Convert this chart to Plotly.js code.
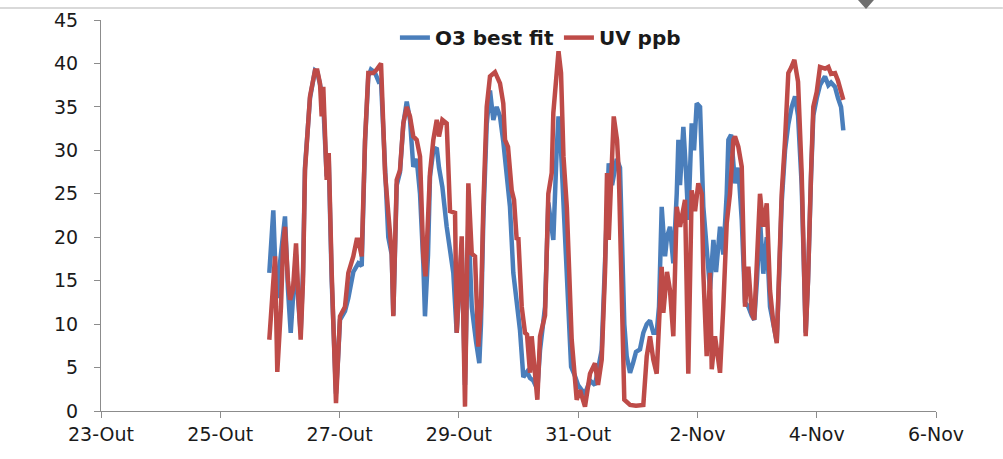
<!DOCTYPE html>
<html>
<head>
<meta charset="utf-8">
<script src="https://cdn.plot.ly/plotly-3.0.1.min.js"></script>
<style>
html,body{margin:0;padding:0;background:#fff;}
#chart{width:1003px;height:459px;}
</style>
</head>
<body>
<div id="chart"></div>
<script>
// x values: days elapsed since 23-Out 00:00
const tickVals = [0, 2, 4, 6, 8, 10, 12, 14];
const tickText = ["23-Out", "25-Out", "27-Out", "29-Out", "31-Out", "2-Nov", "4-Nov", "6-Nov"];
const yTickVals = [0, 5, 10, 15, 20, 25, 30, 35, 40, 45];

const seriesNames = ["O3 best fit", "UV ppb"];

const o3Days = [2.822,2.889,2.926,2.968,3.001,3.052,3.085,3.135,3.181,3.219,3.270,3.303,3.348,3.387,3.420,3.504,3.588,3.627,3.672,3.722,3.784,3.818,3.868,3.907,3.940,3.974,4.007,4.091,4.147,4.230,4.275,4.314,4.371,4.427,4.482,4.527,4.589,4.656,4.695,4.762,4.817,4.874,4.901,4.958,5.013,5.069,5.126,5.181,5.236,5.293,5.349,5.404,5.432,5.483,5.516,5.572,5.629,5.667,5.723,5.796,5.852,5.907,5.964,6.003,6.048,6.103,6.159,6.216,6.243,6.288,6.343,6.371,6.410,6.467,6.522,6.578,6.634,6.690,6.745,6.801,6.857,6.913,6.970,7.025,7.081,7.143,7.193,7.248,7.316,7.361,7.445,7.500,7.557,7.584,7.640,7.671,7.713,7.754,7.783,7.837,7.882,7.948,7.998,8.060,8.115,8.199,8.283,8.395,8.451,8.513,8.569,8.647,8.702,8.736,8.774,8.814,8.870,8.920,8.970,9.037,9.093,9.150,9.205,9.261,9.317,9.356,9.401,9.457,9.490,9.540,9.596,9.653,9.681,9.708,9.764,9.809,9.847,9.904,9.943,9.988,10.044,10.099,10.155,10.211,10.268,10.312,10.379,10.434,10.491,10.519,10.564,10.630,10.686,10.743,10.798,10.854,10.910,10.953,10.998,11.049,11.105,11.162,11.217,11.272,11.330,11.368,11.413,11.469,11.524,11.581,11.637,11.687,11.748,11.815,11.854,11.905,11.943,12.000,12.055,12.139,12.195,12.240,12.307,12.357,12.408,12.446];
const o3Vals = [15.9,23.1,16,13,17,19.7,22.4,14,9.0,13,18,13,9,16,28,36,39.2,39,37.5,36,27,29,15,7,2,6,10.5,11.5,13,16,16.5,17,16.7,31,38.5,39.3,39,37.9,38,27,20,18,11,26,27.5,33,35.6,33.5,28.1,29,25,17,10.9,18,27,30,30.3,28,25.8,21.2,18.9,15.9,9.0,13,19,3,22,12,10.1,8,5.5,10,22,33,36.9,33.5,35.0,33.9,31,27,23.5,15.9,13,9.3,3.9,4.5,3.8,3.5,2.5,7,12,24,21,19.7,30,33.9,30,24,19.7,13.9,5.1,4,3,2.4,2,3.5,3,7,15.8,28.5,26,29,28,20,10,6.3,4.4,5.5,6.8,7.1,9,10,10.4,9,9,12,23.5,17.8,20,21.2,17,25,31.2,26,32.7,27.4,22,33.1,30,35.4,35.0,23.5,17.8,14,19.7,16,21.2,18,25,31.2,31.8,26.2,28,22.0,12.5,12.0,11,10.5,15,22,15.8,20,12,9.7,8,15,24,30,33,35,36.2,34,26,9,15,27,34,36,37.5,38.5,37.5,37.8,37.3,36,35.0,32.3];

const uvDays = [2.822,2.884,2.918,2.956,3.018,3.052,3.085,3.135,3.169,3.219,3.270,3.303,3.348,3.387,3.420,3.504,3.554,3.588,3.627,3.672,3.700,3.727,3.784,3.818,3.868,3.895,3.940,3.974,4.007,4.091,4.147,4.230,4.287,4.314,4.371,4.427,4.482,4.566,4.623,4.695,4.762,4.817,4.874,4.901,4.958,5.013,5.069,5.126,5.181,5.236,5.293,5.349,5.404,5.441,5.516,5.572,5.629,5.667,5.723,5.796,5.852,5.936,5.964,6.003,6.048,6.103,6.159,6.216,6.271,6.326,6.371,6.410,6.467,6.522,6.606,6.690,6.745,6.774,6.824,6.886,6.925,6.970,6.997,7.054,7.109,7.143,7.193,7.221,7.277,7.316,7.361,7.445,7.500,7.557,7.584,7.671,7.713,7.754,7.810,7.837,7.892,7.948,7.976,8.031,8.115,8.199,8.283,8.333,8.395,8.451,8.484,8.513,8.597,8.652,8.682,8.774,8.870,8.970,9.093,9.150,9.205,9.261,9.317,9.356,9.401,9.428,9.490,9.540,9.596,9.653,9.708,9.792,9.847,9.904,9.960,10.015,10.072,10.099,10.155,10.211,10.240,10.295,10.379,10.434,10.491,10.546,10.602,10.630,10.686,10.743,10.798,10.854,10.910,10.953,10.993,11.049,11.105,11.162,11.217,11.272,11.330,11.368,11.413,11.469,11.524,11.570,11.625,11.687,11.748,11.815,11.854,11.905,11.943,12.000,12.055,12.139,12.195,12.240,12.307,12.357,12.408,12.446];
const uvVals = [8.2,14,17.8,4.5,12,18.9,21.2,15,12.8,14,19.3,14,8.2,15,27.7,36.2,38.5,39.2,39.2,37.7,33.9,37.3,26.6,29.7,15.9,9.0,0.9,6,10.9,12.0,15.9,17.8,19.7,19.7,17.8,31.2,38.9,38.9,39.3,40.0,27.4,22.8,18.2,10.9,26.6,27.7,33.1,35.0,33.9,31.6,31.2,29.3,17.8,15.5,27.4,31.2,33.5,31.6,33.5,33.1,23,22.8,9.0,14,20.1,0.5,26.2,18.1,17.8,7.4,12,23.5,35.0,38.5,39.0,37.7,35.4,31.2,30.4,25.4,24.3,19.7,20,12.0,9.0,8.8,4.4,8.6,4.4,1.3,8.6,11,25,27.4,34.3,41.4,38.9,29.3,23.5,18.9,8.2,3.6,1.3,2.4,0.5,4.3,5.5,3,5.9,16,27.4,19.7,33.9,31.2,27.4,1.3,0.7,0.6,0.7,6.3,8.6,5.9,4.3,10,16.6,11.3,16,13.9,8.6,23.5,21.2,24.3,4.3,25.4,23,26.2,25.0,15.9,6.3,15.9,4.8,8.6,4.4,12.0,21.6,25,31.2,31.6,30.4,28.1,12.0,16.6,11.3,10.5,15.9,25.0,21.2,23.9,13.9,10.2,7.8,15,25.0,31.2,38.9,39.5,40.4,37.9,27.4,8.6,15,27.4,35.0,36.7,39.6,39.4,39.6,38.8,38.9,38,36.9,35.8];

const colors = ["#4A7EBB", "#BE4B48"];

const traces = [
  {x: o3Days, y: o3Vals, name: seriesNames[0], type: "scatter", mode: "lines",
   line: {color: colors[0], width: 4.5, shape: "linear"}},
  {x: uvDays, y: uvVals, name: seriesNames[1], type: "scatter", mode: "lines",
   line: {color: colors[1], width: 4.5, shape: "linear"}}
];

const axisFont = {family: "DejaVu Sans, Liberation Sans, sans-serif", size: 19, color: "#1a1a1a"};

const layout = {
  width: 1003, height: 459,
  margin: {l: 101, r: 67, t: 20, b: 48, pad: 0},
  paper_bgcolor: "#ffffff", plot_bgcolor: "#ffffff",
  showlegend: true,
  legend: {orientation: "h", x: 0.352, xanchor: "left", y: 0.955, yanchor: "middle",
           font: {family: "DejaVu Sans, sans-serif", size: 20, color: "#1a1a1a", weight: "bold"},
           bgcolor: "rgba(0,0,0,0)", itemwidth: 30, tracegroupgap: 0},
  xaxis: {type: "linear", range: [0, 14], tickmode: "array", tickvals: tickVals, ticktext: tickText,
          showgrid: false, zeroline: false, showline: true, linecolor: "#8c8c8c", linewidth: 1,
          ticks: "outside", ticklen: 6, tickcolor: "#8c8c8c", tickfont: axisFont, fixedrange: true},
  yaxis: {range: [0, 45], tickmode: "array", tickvals: yTickVals,
          ticklabelposition: "outside", ticklabelstandoff: 12,
          showgrid: false, zeroline: false, showline: true, linecolor: "#8c8c8c", linewidth: 1,
          ticks: "outside", ticklen: 6, tickcolor: "#8c8c8c", tickfont: axisFont, fixedrange: true},
  shapes: [
    {type: "line", xref: "paper", yref: "paper", x0: -0.121, x1: 1.08, y0: 1.031, y1: 1.031,
     line: {color: "#d9d9d9", width: 2}},
    {type: "path", xref: "paper", yref: "paper",
     path: "M 0.9066 1.051 L 0.9257 1.051 L 0.9162 1.028 Z",
     fillcolor: "#6e6e6e", line: {width: 0}}
  ]
};

Plotly.newPlot("chart", traces, layout, {displayModeBar: false, staticPlot: true});
</script>
</body>
</html>
